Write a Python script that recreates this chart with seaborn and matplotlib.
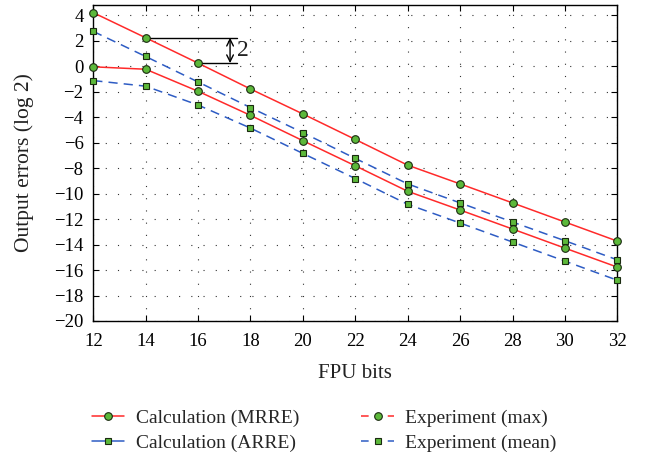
import matplotlib
matplotlib.use("Agg")
import matplotlib.pyplot as plt
import seaborn as sns
import numpy as np
from matplotlib.lines import Line2D

sns.set_theme(style="ticks")
plt.rcParams['font.family'] = ['Liberation Serif', 'DejaVu Serif']
plt.rcParams['axes.unicode_minus'] = True

bits = [12, 14, 16, 18, 20, 22, 24, 26, 28, 30, 32]
calc_mrre = [4.2, 2.23, 0.24, -1.79, -3.75, -5.75, -7.77, -9.24, -10.73, -12.23, -13.73]
exp_max = [-0.05, -0.24, -1.97, -3.86, -5.85, -7.82, -9.82, -11.29, -12.78, -14.28, -15.77]
calc_arre = [2.73, 0.76, -1.24, -3.25, -5.22, -7.24, -9.24, -10.73, -12.23, -13.7, -15.2]
exp_mean = [-1.13, -1.57, -3.05, -4.86, -6.85, -8.82, -10.84, -12.31, -13.8, -15.3, -16.8]

legend_labels = ["Calculation (MRRE)", "Calculation (ARRE)", "Experiment (max)", "Experiment (mean)"]
xticks = list(range(12, 33, 2))
yticks = list(range(-20, 5, 2))

RED = "#ff2a2a"
BLUE = "#2e5cc4"
GREEN = "#5cb83a"
EDGE = "#1a2a10"

fig = plt.figure(figsize=(6.47, 4.57), dpi=100)
ax = fig.add_axes([0.1442, 0.2976, 0.8099, 0.6914])

dash = (0, (6, 4))
common = dict(ax=ax, lw=1.1, markerfacecolor=GREEN, markeredgecolor=EDGE,
              markeredgewidth=0.8, zorder=3, clip_on=False)
sns.lineplot(x=bits, y=calc_mrre, color=RED, marker='o', markersize=5.5, **common)
sns.lineplot(x=bits, y=exp_max, color=RED, marker='o', markersize=5.5, **common)
sns.lineplot(x=bits, y=calc_arre, color=BLUE, linestyle=dash, marker='s', markersize=4.5, **common)
sns.lineplot(x=bits, y=exp_mean, color=BLUE, linestyle=dash, marker='s', markersize=4.5, **common)

ax.set_xlim(12, 32)
ax.set_ylim(-20, 4.8)
ax.set_xticks(xticks)
ax.set_yticks(yticks)
ax.grid(True, color="#333333", linestyle=(0, (1, 10)), linewidth=0.8)
for s in ax.spines.values():
    s.set_color("black")
    s.set_linewidth(1.0)
ax.tick_params(direction='in', length=4, width=0.8, top=True, right=True,
               labelsize=13.5, colors='black')
ax.tick_params(axis='x', pad=9)
ax.tick_params(axis='y', pad=7)
ax.set_xlabel("FPU bits", fontsize=15, color="#222222")
ax.set_ylabel("Output errors (log 2)", fontsize=15.5, color="#222222")
ax.xaxis.set_label_coords(0.5, -0.136)
ax.yaxis.set_label_coords(-0.113, 0.5)

# annotation showing 2-bit gap
y_hi = calc_mrre[1]
y_lo = calc_mrre[2]
ax.plot([14, 17.5], [y_hi, y_hi], color='black', lw=1.0, zorder=2)
ax.plot([16, 17.5], [y_lo, y_lo], color='black', lw=1.0, zorder=2)
ax.annotate("", xy=(17.22, y_hi), xytext=(17.22, y_lo),
            arrowprops=dict(arrowstyle='<->', color='black', lw=1.0, shrinkA=0, shrinkB=0))
ax.text(17.5, (y_hi + y_lo) / 2, "2", fontsize=17, ha='left', va='center', color='#222222')

mk = dict(markerfacecolor=GREEN, markeredgecolor=EDGE, markeredgewidth=0.8)
leg_dash = (0, (5, 12.5))
handles = [
    Line2D([], [], color=RED, lw=1.1, marker='o', markersize=5.5, **mk),
    Line2D([], [], color=BLUE, lw=1.1, marker='s', markersize=4.5, **mk),
    Line2D([], [], color=RED, lw=1.1, linestyle=leg_dash, marker='o', markersize=5.5, **mk),
    Line2D([], [], color=BLUE, lw=1.1, linestyle=leg_dash, marker='s', markersize=4.5, **mk),
]
fig.legend(handles, legend_labels, ncol=2, loc='center left', bbox_to_anchor=(0.1424, 0.058),
           frameon=False, fontsize=14, handlelength=1.65, handletextpad=0.6,
           columnspacing=3.2, labelspacing=0.4, borderpad=0, borderaxespad=0)

fig.savefig("out.png", dpi=100)
